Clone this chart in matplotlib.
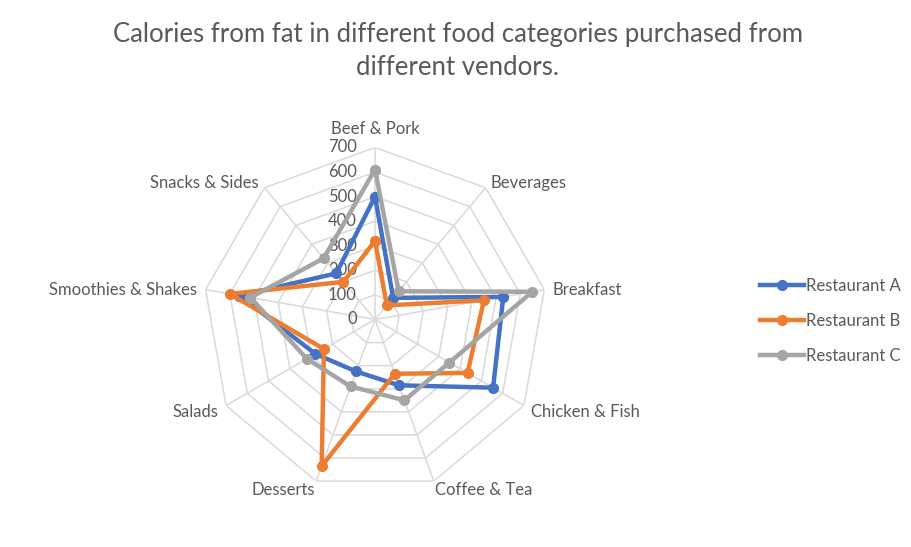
#!/usr/bin/env python

import numpy as np
import matplotlib
matplotlib.use("Agg")
import matplotlib.pyplot as plt

categories = ["Beef & Pork", "Beverages", "Breakfast", "Chicken & Fish",
              "Coffee & Tea", "Desserts", "Salads", "Smoothies & Shakes",
              "Snacks & Sides"]
restaurant_a = [500, 115, 530, 555, 285, 225, 280, 560, 245]
restaurant_b = [320, 75, 450, 435, 235, 635, 240, 600, 200]
restaurant_c = [610, 150, 650, 350, 350, 290, 320, 515, 325]
series_names = ["Restaurant A", "Restaurant B", "Restaurant C"]
colors = ["#4472C4", "#ED7D31", "#A5A5A5"]
r_ticks = [0, 100, 200, 300, 400, 500, 600, 700]

plt.rcParams["font.family"] = ["Lato", "DejaVu Sans"]
text_color = "#595959"
grid_color = "#D9D9D9"

W, H, dpi = 912, 547, 100
fig = plt.figure(figsize=(W / dpi, H / dpi), dpi=dpi)

# polar axes placed so that the centre sits where the reference has it
cx, cy, R = 375, 319.5, 172
ax = fig.add_axes([(cx - R) / W, (H - cy - R) / H, 2 * R / W, 2 * R / H],
                  projection="polar")
ax.set_theta_zero_location("N")
ax.set_theta_direction(-1)
ax.set_ylim(0, r_ticks[-1])
ax.grid(False)
ax.set_xticks([])
ax.set_yticks([])
ax.spines["polar"].set_visible(False)
ax.patch.set_alpha(0)

n = len(categories)
theta = np.linspace(0, 2 * np.pi, n, endpoint=False)
theta_closed = np.append(theta, theta[0])

# nonagon gridlines and spokes
for r in r_ticks[1:]:
    ax.plot(theta_closed, [r] * (n + 1), color=grid_color, lw=1.1, zorder=1)
for t in theta:
    ax.plot([t, t], [0, r_ticks[-1]], color=grid_color, lw=1.1, zorder=1)

# radial tick labels, left of the vertical axis
for r in r_ticks:
    ax.annotate(str(r), xy=(0, r), xytext=(-13, 0), textcoords="offset points",
                ha="right", va="center", fontsize=12, color=text_color,
                annotation_clip=False)

# category labels
for t, name in zip(theta, categories):
    phi = np.pi / 2 - t
    c, s = np.cos(phi), np.sin(phi)
    ha = "left" if c > 0.1 else ("right" if c < -0.1 else "center")
    if s > 0.9:
        va, off = "bottom", (0, 7.5)
    elif s < -0.9:
        va, off = "top", (2 * c, 0.5 * s)
    else:
        va, off = "center", (6 * c, 6 * s - 1.5)
    ax.annotate(name, xy=(t, r_ticks[-1]), xytext=off,
                textcoords="offset points", ha=ha, va=va, fontsize=12,
                color=text_color, annotation_clip=False)

handles = []
for vals, name, col in zip([restaurant_a, restaurant_b, restaurant_c],
                           series_names, colors):
    v = np.append(vals, vals[0])
    h, = ax.plot(theta_closed, v, color=col, lw=3.2, marker="o",
                 markersize=7, label=name, zorder=3, clip_on=False)
    handles.append(h)

fig.legend(handles=handles, loc="center left",
           bbox_to_anchor=(752 / W, 1 - 321 / H), frameon=False,
           fontsize=12, labelcolor=text_color, handlelength=2.6,
           handletextpad=0.15, labelspacing=1.15, borderpad=0)

fig.text(0.502, 1 - 51 / H,
         "Calories from fat in different food categories purchased from\n"
         "different vendors.", ha="center", va="center", fontsize=18.5,
         color=text_color, linespacing=1.43)

fig.savefig("out.png", dpi=dpi)
